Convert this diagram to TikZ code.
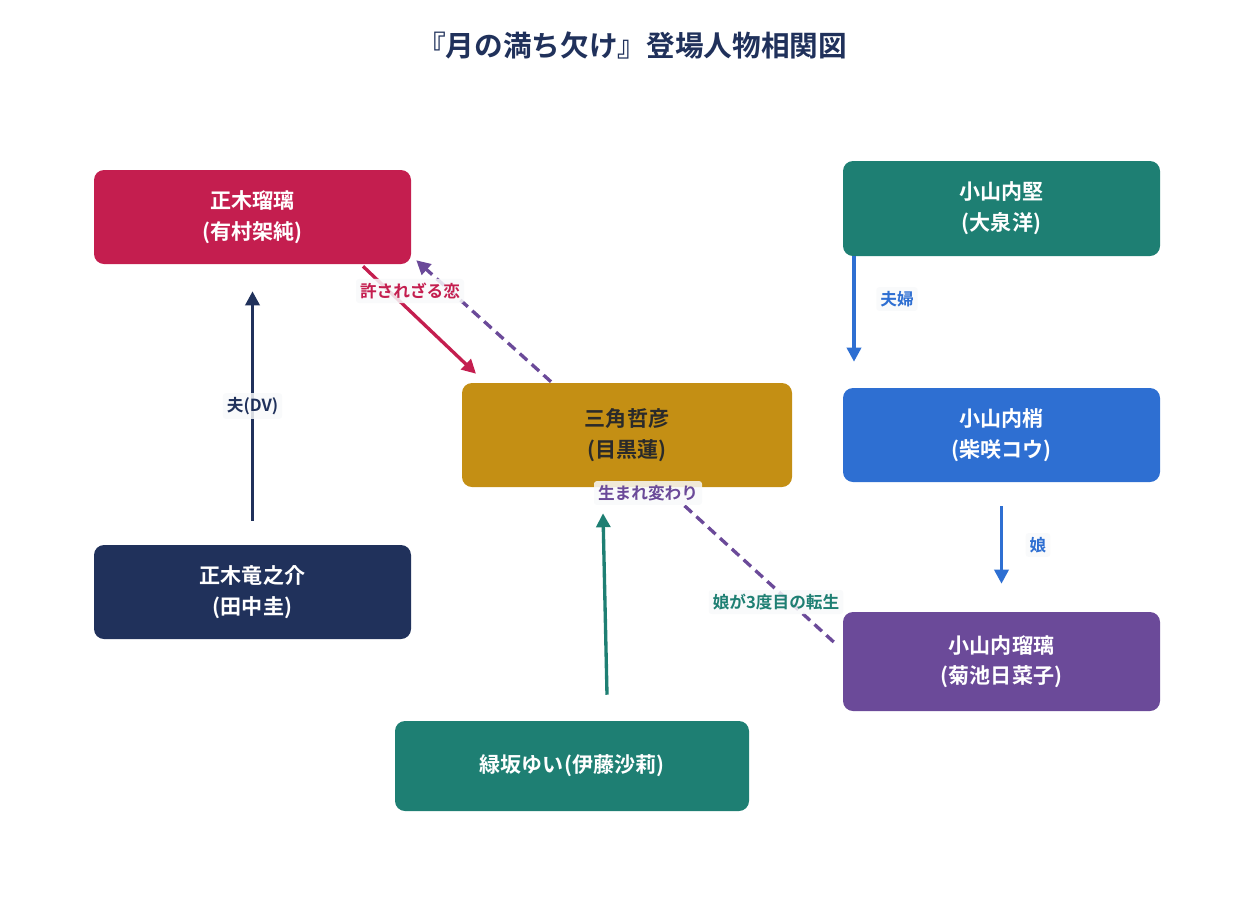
\documentclass[tikz,border=0pt]{standalone}
\usepackage{fontspec}
\setmainfont{Noto Sans CJK JP}[BoldFont={Noto Sans CJK JP Bold}]
\usetikzlibrary{arrows.meta}

\definecolor{crimson}{HTML}{C41E4F}
\definecolor{teal}{HTML}{1E7F73}
\definecolor{gold}{HTML}{C48F14}
\definecolor{skyblue}{HTML}{2E6FD2}
\definecolor{navy}{HTML}{20315B}
\definecolor{violet}{HTML}{6B4A99}
\definecolor{ink}{HTML}{2A2A2A}
\definecolor{tagbg}{HTML}{F8F9FA}

\tikzset{
  person/.style={rounded corners=7.5pt, text=white, inner sep=0pt, align=center,
    font=\fontsize{15.8}{23}\selectfont\bfseries,
    minimum width=237.75pt, minimum height=70.5pt},
  rel/.style={line width=2.5pt, -{Triangle[length=10.5pt,width=10.5pt]}},
  reldash/.style={line width=2.5pt, dash pattern=on 7.5pt off 4.5pt},
  tag/.style={fill=tagbg, fill opacity=0.85, text opacity=1, rounded corners=2pt,
    inner sep=3pt, font=\fontsize{12.5}{14}\selectfont\bfseries}
}

\begin{document}
\begin{tikzpicture}[x=0.75pt,y=-0.75pt]
        \useasboundingbox (0,0) rectangle (1254,897);
        % title
        \node[text=navy, font=\fontsize{21.5}{25}\selectfont\bfseries] (title) at (632,46) {『月の満ち欠け』登場人物相関図};
        % people
        \node[person, fill=crimson] (ruri) at (252.5,217) {正木瑠璃\\(有村架純)};
        \node[person, fill=teal, minimum height=71.25pt] (ken) at (1001.5,208.5) {小山内堅\\(大泉洋)};
        \node[person, fill=gold, text=ink, minimum width=247.5pt, minimum height=78pt] (misumi) at (627,435) {三角哲彦\\(目黒蓮)};
        \node[person, fill=skyblue] (kozue) at (1001.5,435) {小山内梢\\(柴咲コウ)};
        \node[person, fill=navy] (ryu) at (252.5,592) {正木竜之介\\(田中圭)};
        \node[person, fill=violet, minimum height=74.25pt] (ruri2) at (1001.5,661.5) {小山内瑠璃\\(菊池日菜子)};
        \node[person, fill=teal, minimum width=265.5pt, minimum height=67.5pt] (yui) at (572,766) {緑坂ゆい(伊藤沙莉)};
        % relations
        \draw[rel, crimson] ([shift={(110.5,2)}]ruri.south) -- ([shift={(-151,-9)}]misumi.north);
        \draw[reldash, violet, -{Triangle[length=10.5pt,width=10.5pt]}] ([shift={(-76,-1)}]misumi.north) -- ([shift={(5,-4)}]ruri.south east);
        \draw[rel, navy] ([shift={(0,-24)}]ryu.north) -- ([shift={(0,27)}]ruri.south)
          node[tag, text=navy, midway] (dv) {夫(DV)};
        \draw[rel, skyblue] ([shift={(-147.5,0)}]ken.south) -- ([shift={(-147.5,-26)}]kozue.north);
        \draw[rel, skyblue] ([shift={(0,24)}]kozue.south) -- ([shift={(0,-28)}]ruri2.north);
        \draw[rel, teal] ([shift={(35,-26)}]yui.north) -- ([shift={(-24,26)}]misumi.south);
        \draw[reldash, violet] ([shift={(-9,-19.5)}]ruri2.west) -- ([shift={(57,18)}]misumi.south);
        % labels
        \node[tag, text=crimson] (koi) at (410,291) {許されざる恋};
        \node[tag, text=skyblue] (fufu) at (897,299) {夫婦};
        \node[tag, text=skyblue] (musume) at (1038,545) {娘};
        \node[tag, text=violet] (umare) at (648,493) {生まれ変わり};
        \node[tag, text=teal] (tensei) at (776,602) {娘が3度目の転生};
\end{tikzpicture}
\end{document}
